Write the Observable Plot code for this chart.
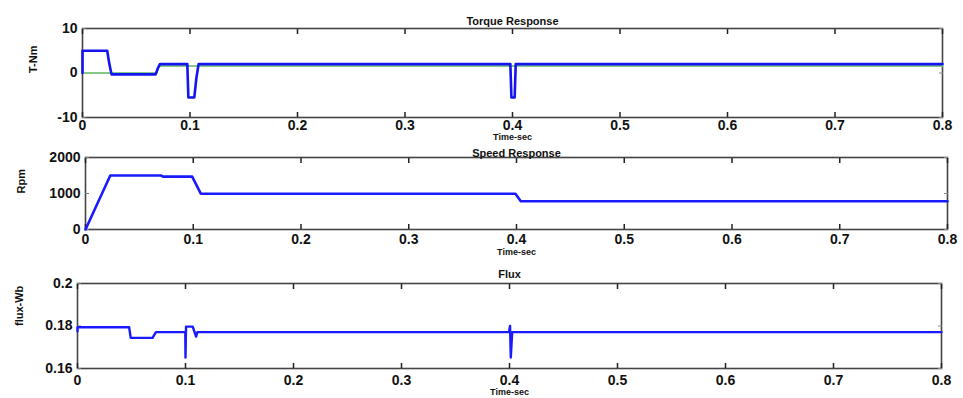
<!DOCTYPE html>
<html>
<head>
<meta charset="utf-8">
<script src="https://cdn.jsdelivr.net/npm/d3@7"></script>
<script src="https://cdn.jsdelivr.net/npm/@observablehq/plot@0.6"></script>
<style>
  html, body { margin: 0; padding: 0; background: #fff; }
  #wrap { position: relative; width: 963px; height: 398px; background: #fff; overflow: hidden; }
  .panel { position: absolute; left: 0; }
</style>
</head>
<body>
<div id="wrap">
  <div class="panel" id="p1" style="top:0px"></div>
  <div class="panel" id="p2" style="top:130px"></div>
  <div class="panel" id="p3" style="top:260px"></div>
</div>
<script>
// ---------- data ----------
const xTicks = [0, 0.1, 0.2, 0.3, 0.4, 0.5, 0.6, 0.7, 0.8];
const xTickLabels = ["0", "0.1", "0.2", "0.3", "0.4", "0.5", "0.6", "0.7", "0.8"];

// Torque response: electromagnetic torque (blue) and load torque (green)
const torqueTime = [0, 0, 0.023, 0.025, 0.027, 0.068, 0.070, 0.072, 0.0975, 0.0985, 0.104, 0.106, 0.108, 0.398, 0.399, 0.402, 0.403, 0.8];
const torqueTe   = [0, 5, 5, 2, -0.3, -0.3, 1, 2, 2, -5.5, -5.5, -1, 2, 2, -5.5, -5.5, 2, 2];
const loadTime   = [0, 0.069, 0.071, 0.8];
const loadTorque = [0, 0, 1.6, 1.6];
const torqueTicks = [-10, 0, 10];
const torqueTickLabels = ["-10", "0", "10"];

// Speed response (rpm)
const speedTime = [0, 0.023, 0.070, 0.072, 0.099, 0.107, 0.399, 0.404, 0.8];
const speedRpm  = [0, 1500, 1500, 1470, 1470, 995, 995, 785, 785];
const speedTicks = [0, 1000, 2000];
const speedTickLabels = ["0", "1000", "2000"];

// Flux (Wb)
const fluxTime = [0, 0, 0.0478, 0.0493, 0.0695, 0.0726, 0.0998, 0.1000, 0.1005, 0.1067, 0.1098, 0.111, 0.3995, 0.4005, 0.4012, 0.4025, 0.8];
const fluxWb   = [0.1775, 0.1794, 0.1794, 0.1744, 0.1744, 0.1771, 0.1771, 0.1652, 0.1797, 0.1797, 0.1750, 0.1771, 0.1771, 0.1800, 0.1652, 0.1771, 0.1771];
const fluxTicks = [0.16, 0.18, 0.2];
const fluxTickLabels = ["0.16", "0.18", "0.2"];

// ---------- drawing ----------
const rows = (ts, vs) => ts.map((t, i) => ({t, v: vs[i]}));
const FONT = "'Liberation Sans', Arial, sans-serif";

function panel(o) {
  const fmtX = d => xTickLabels[xTicks.indexOf(d)];
  const fmtY = d => o.yLabels[o.yTicks.indexOf(d)];
  const marks = [
    Plot.frame({stroke: "#444", strokeWidth: 1.6}),
    Plot.axisX({anchor: "bottom", ticks: xTicks, tickFormat: fmtX, tickSize: -5, tickPadding: 5 + o.xLabGap, fontSize: 14, fontWeight: "bold", label: null, stroke: "#222", strokeWidth: 1.5}),
    Plot.axisX({anchor: "top", ticks: xTicks, tickFormat: () => "", tickSize: -5, label: null, stroke: "#222", strokeWidth: 1.5}),
    Plot.axisY({anchor: "left", ticks: o.yTicks, tickFormat: fmtY, tickSize: -4, tickPadding: 9, fontSize: 14, fontWeight: "bold", label: null, stroke: "#777"}),
    Plot.axisY({anchor: "right", ticks: o.yTicks, tickFormat: () => "", tickSize: -4, label: null, stroke: "#888"}),
    ...o.series.map(s => Plot.line(s.data, {x: "t", y: "v", stroke: s.color, strokeWidth: s.width})),
    Plot.text([o.title], {frameAnchor: "top", dy: o.titleDy, fontSize: 11, fontWeight: "bold", fill: "#111"}),
    Plot.text(["Time-sec"], {frameAnchor: "bottom", dy: o.xlabDy, fontSize: 9, fontWeight: "bold", fill: "#111"}),
    Plot.text([o.ylabel], {frameAnchor: "left", dx: o.ylabDx, rotate: -90, fontSize: 11, fontWeight: "bold", fill: "#111"})
  ];
  return Plot.plot({
    width: 963,
    height: o.height,
    marginLeft: o.ml, marginRight: o.mr, marginTop: o.mt, marginBottom: o.mb,
    x: {domain: [0, 0.8]},
    y: {domain: o.yDomain},
    style: {background: "transparent", fontFamily: FONT, color: "#111", overflow: "visible"},
    marks
  });
}

document.getElementById("p1").append(panel({
  height: 145, ml: 82, mr: 21, mt: 28, mb: 28,
  yDomain: [-10, 10], yTicks: torqueTicks, yLabels: torqueTickLabels,
  series: [
    {data: rows(loadTime, loadTorque), color: "#86c986", width: 2},
    {data: rows(torqueTime, torqueTe), color: "#1414f0", width: 2.6}
  ],
  title: "Torque Response", titleDy: -11, xlabDy: 22, xLabGap: 3,
  ylabel: "T-Nm", ylabDx: -49
}));

document.getElementById("p2").append(panel({
  height: 130, ml: 85, mr: 16, mt: 27, mb: 31,
  yDomain: [0, 2000], yTicks: speedTicks, yLabels: speedTickLabels,
  series: [
    {data: rows(speedTime, speedRpm), color: "#1a1aff", width: 2.6}
  ],
  title: "Speed Response", titleDy: -8, xlabDy: 25, xLabGap: 5,
  ylabel: "Rpm", ylabDx: -64
}));

document.getElementById("p3").append(panel({
  height: 138, ml: 77, mr: 22, mt: 23, mb: 30,
  yDomain: [0.16, 0.2], yTicks: fluxTicks, yLabels: fluxTickLabels,
  series: [
    {data: rows(fluxTime, fluxWb), color: "#1a1aff", width: 2.4}
  ],
  title: "Flux", titleDy: -13, xlabDy: 26, xLabGap: 7,
  ylabel: "flux-Wb", ylabDx: -58
}));
</script>
</body>
</html>
